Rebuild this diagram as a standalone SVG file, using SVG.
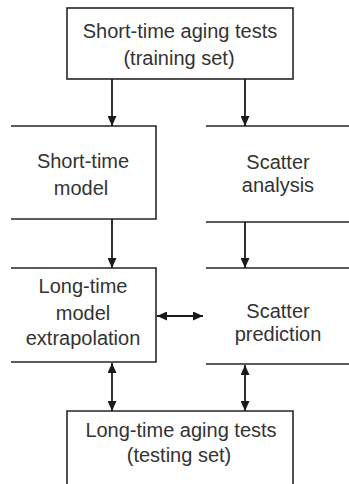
<svg xmlns="http://www.w3.org/2000/svg" width="349" height="484" viewBox="0 0 349 484">
<style>
.box{fill:none;stroke:#262626;stroke-width:1.6}
.lbl{font-family:"Liberation Sans",Arial,sans-serif;font-size:20px;fill:#333;text-anchor:middle}
.con{fill:none;stroke:#1a1a1a;stroke-width:1.8}
</style>
<defs>
<marker id="ah" markerUnits="userSpaceOnUse" markerWidth="10" markerHeight="9" refX="10" refY="4.5" orient="auto-start-reverse" viewBox="0 0 10 9">
<path d="M0,0 L10,4.5 L0,9 z" fill="#1a1a1a"/>
</marker>
</defs>
<rect width="349" height="484" fill="#fff"/>
<g id="short-tests">
<rect class="box" x="67" y="8" width="226" height="71"/>
<text class="lbl" x="180" y="38">Short-time aging tests</text>
<text class="lbl" x="179" y="65">(training set)</text>
</g>
<g id="short-model">
<path class="box" d="M11,126 H156 V219 H11"/>
<text class="lbl" x="83" y="168">Short-time</text>
<text class="lbl" x="81" y="195">model</text>
</g>
<g id="scatter-analysis">
<path class="box" d="M206,126 H349 M206,222 H349"/>
<text class="lbl" x="278" y="169">Scatter</text>
<text class="lbl" x="278" y="192">analysis</text>
</g>
<g id="long-model">
<path class="box" d="M11,268 H156 V362 H11"/>
<text class="lbl" x="83" y="293">Long-time</text>
<text class="lbl" x="83" y="320">model</text>
<text class="lbl" x="83" y="345">extrapolation</text>
</g>
<g id="scatter-prediction">
<path class="box" d="M206,268 H349 M206,364 H349"/>
<text class="lbl" x="278" y="318">Scatter</text>
<text class="lbl" x="278" y="341">prediction</text>
</g>
<g id="long-tests">
<path class="box" d="M67,484 V411 H293 V484"/>
<text class="lbl" x="181" y="437">Long-time aging tests</text>
<text class="lbl" x="179" y="462">(testing set)</text>
</g>
<g id="connectors">
<line class="con" x1="112" y1="79" x2="112" y2="126" marker-end="url(#ah)"/>
<line class="con" x1="245" y1="79" x2="245" y2="126" marker-end="url(#ah)"/>
<line class="con" x1="112" y1="219" x2="112" y2="268" marker-end="url(#ah)"/>
<line class="con" x1="245" y1="222" x2="245" y2="268" marker-end="url(#ah)"/>
<line class="con" x1="157" y1="316" x2="203" y2="316" marker-start="url(#ah)" marker-end="url(#ah)"/>
<line class="con" x1="112" y1="363" x2="112" y2="411" marker-start="url(#ah)" marker-end="url(#ah)"/>
<line class="con" x1="245" y1="365" x2="245" y2="411" marker-start="url(#ah)" marker-end="url(#ah)"/>
</g>
</svg>
